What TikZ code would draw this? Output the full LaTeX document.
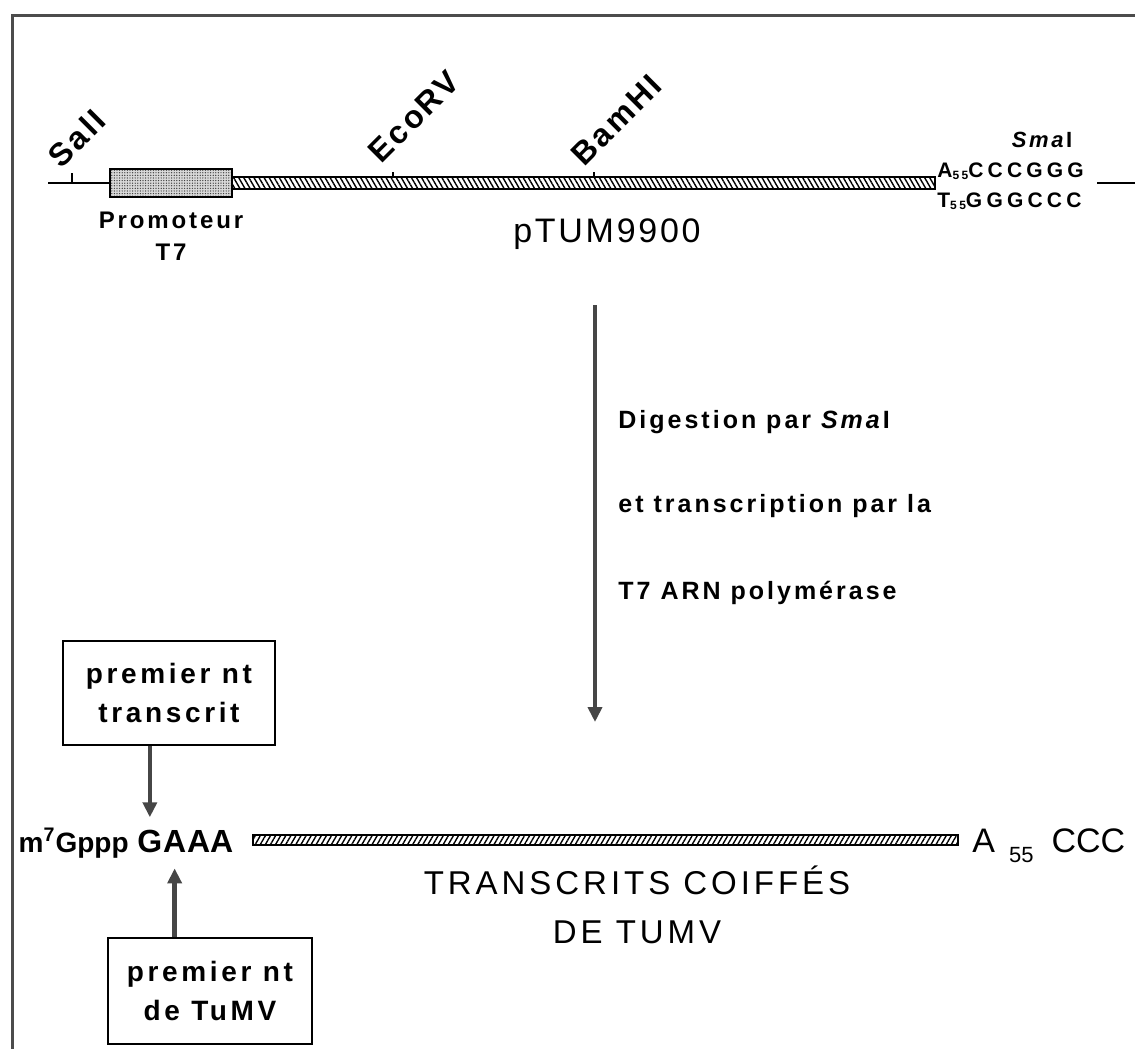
\documentclass[tikz,border=0pt]{standalone}
\usepackage{fontspec}
\setmainfont[LetterSpace=12]{Liberation Sans}
\newfontfamily\plainfont{Liberation Sans}
\usetikzlibrary{arrows.meta, positioning, patterns.meta}

\begin{document}
\begin{tikzpicture}[
    x=0.5pt, y=-0.5pt,
    frame/.style={draw=gray!60!black, line width=1.5pt},
    dnaline/.style={line width=1pt},
    promobox/.style={draw, line width=0.8pt, minimum width=61pt, minimum height=14pt, inner sep=0pt,
        preaction={fill=gray!30}, pattern={Dots[distance=1.3pt, radius=0.35pt]}, pattern color=black!75},
    plasmid/.style={draw, line width=0.6pt, minimum width=351.5pt, minimum height=6pt, inner sep=0pt,
        pattern={Lines[angle=-60, distance=2.2pt, line width=0.7pt]}},
    transcript/.style={draw, line width=0.6pt, minimum width=352.5pt, minimum height=5pt, inner sep=0pt,
        pattern={Lines[angle=60, distance=2.2pt, line width=0.7pt]}},
    site/.style={rotate=45, anchor=south west, inner sep=0pt,
        font=\bfseries\fontsize{16}{18}\selectfont\addfontfeature{LetterSpace=8}},
    sitetick/.style={line width=0.7pt},
    seq/.style={anchor=base west, inner sep=0pt, font=\bfseries\fontsize{10.5}{14}\selectfont\addfontfeature{LetterSpace=20}},
    steptext/.style={anchor=base west, inner sep=0pt, font=\bfseries\fontsize{12.5}{14}\selectfont},
    title/.style={align=center, inner sep=0pt, font=\fontsize{17}{20}\selectfont\addfontfeature{LetterSpace=8}},
    notebox/.style={draw, line width=1pt, align=center, inner sep=0pt,
        font=\bfseries\fontsize{14}{19.5}\selectfont\addfontfeature{LetterSpace=13}},
    capfont/.style={anchor=base west, inner sep=0pt, font=\plainfont\bfseries\fontsize{16}{18}\selectfont},
    ptr/.style={draw=gray!55!black, line width=2pt, -{Triangle[length=7.5pt, width=7pt]}},
]
\useasboundingbox (0,0) rectangle (1135,1049);

% frame
\draw[frame] (12,1049) -- (12,15) -- (1135,15);

% plasmid pTUM9900
\node[promobox] (promo) at (171,183) {};
\node[plasmid] (insert) at (583.5,183) {};
\coordinate (lend) at (48,183);
\coordinate (rend) at (1135,183);
\draw[dnaline] (lend) -- (promo.west);
\node[seq, align=left, anchor=west] (smaseq) at (937,186)
    {A\raisebox{-1pt}{\fontsize{6}{7}\selectfont 55}CCCGGG\\[1pt]T\raisebox{-1pt}{\fontsize{6}{7}\selectfont 55}GGGCCC};
\draw[dnaline] (1097,183) -- (rend);
\node[seq, anchor=base, font=\bfseries\itshape\fontsize{11}{13}\selectfont] (smai) at (1042,147) {Sma\textup{I}};

% restriction sites
\draw[sitetick] (72,183) -- (72,173) coordinate (salt);
\draw[sitetick] (393,178) -- (393,172) coordinate (ecot);
\draw[sitetick] (594,178) -- (594,172) coordinate (bamt);
\node[site] (sali) at (62,170) {SalI};
\node[site] (ecorv) at (382,165) {EcoRV};
\node[site] (bamhi) at (585,168) {BamHI};

\node[below=7pt of promo, align=center, inner sep=0pt, font=\bfseries\fontsize{12}{16}\selectfont] (promolab) {Promoteur\\T7};
\node[title, anchor=base] (ptum) at (607,242) {pTUM9900};

% digestion / transcription
\coordinate (digtop) at (595,305);
\coordinate (digend) at (595,722);
\draw[ptr] (digtop) -- (digend);
\node[steptext] (dig1) at (618,428) {Digestion par \textit{Sma}I};
\node[steptext] (dig2) at (618,512) {et transcription par la};
\node[steptext] (dig3) at (618,599) {T7 ARN polymérase};

% capped transcripts
\node[capfont] (nG) at (137,852) {G};
\node[capfont] (nA) at (nG.base east) {A};
\node[capfont] (nAA) at (nA.base east) {AA};
\node[capfont, anchor=base east, font=\plainfont\bfseries\fontsize{14}{16}\selectfont] (mgppp) at ([xshift=-4pt]nG.base west) {m\textsuperscript{7}Gppp};
\node[transcript] (rna) at (605.5,840) {};
\node[capfont, font=\plainfont\fontsize{17}{18}\selectfont] (polya) at (972,852)
    {A\hspace{7pt}\raisebox{-5pt}{\fontsize{11}{12}\selectfont 55}\hspace{9pt}CCC};
\node[title, font=\fontsize{16.5}{24.5}\selectfont\addfontfeature{LetterSpace=12}, anchor=north] (rnalab) at (637,865)
    {TRANSCRITS COIFFÉS\\DE TUMV};

% first nucleotides
\node[notebox, minimum width=106pt, minimum height=52pt] (box1) at (169,693) {premier nt\\transcrit};
\node[notebox, minimum width=102pt, minimum height=53pt] (box2) at (210,991) {premier nt\\de TuMV};
\draw[ptr] (box1.south -| nG) -- ([yshift=6pt]nG.north);
\draw[ptr, line width=2.5pt] (box2.north -| nA) -- ([yshift=-8pt]nA.south);

\end{tikzpicture}
\end{document}
